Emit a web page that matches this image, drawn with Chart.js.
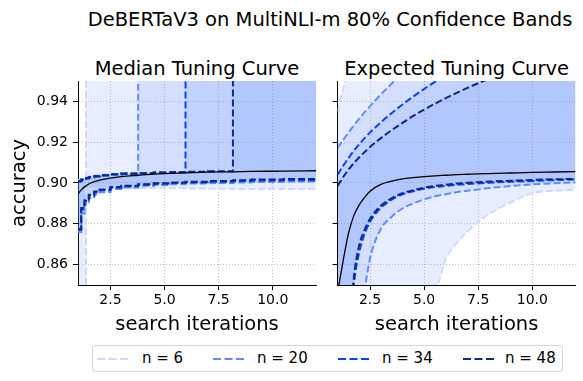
<!DOCTYPE html>
<html>
<head>
<meta charset="utf-8">
<script src="https://cdn.jsdelivr.net/npm/chart.js@4/dist/chart.umd.min.js"></script>
<style>
  body { margin: 0; background: #fff; font-family: 'DejaVu Sans', sans-serif; }
  #page { position: relative; width: 583px; height: 381px; overflow: hidden; }
  .txt { position: absolute; white-space: nowrap; text-align: center; color: #000; }
  canvas { position: absolute; top: 0; }
  #legend { position: absolute; left: 92px; top: 345px; width: 471px; height: 27px; box-sizing: border-box;
            border: 1px solid #d5d5d5; border-radius: 3px; }
  #legend svg, #legend span { position: absolute; }
  #legend span { font-size: 15px; line-height: 25px; top: 0; }
</style>
</head>
<body>
<div id="page">
  <div class="txt" style="left:30px; width:600px; top:8px; font-size:19.5px;">DeBERTaV3 on MultiNLI-m 80% Confidence Bands</div>
  <div class="txt" style="left:47px; width:300px; top:57px; font-size:19.5px;">Median Tuning Curve</div>
  <div class="txt" style="left:306.6px; width:300px; top:57px; font-size:19.5px;">Expected Tuning Curve</div>
  <canvas id="median_chart" width="320" height="345" style="left:0px"></canvas>
  <canvas id="expected_chart" width="258" height="345" style="left:325px"></canvas>
  <div id="legend"></div>
</div>
<script>
// tick labels
const xTicks = [2.5, 5.0, 7.5, 10.0];
const xTickLabels = ['2.5', '5.0', '7.5', '10.0'];
const yTicks = [0.86, 0.88, 0.90, 0.92, 0.94];
const yTickLabels = ['0.86', '0.88', '0.90', '0.92', '0.94'];

// series names (n = sample size) and their colours
const sizes = ['n = 6', 'n = 20', 'n = 34', 'n = 48'];
const lineColors = ['#cddaff', '#5f8cff', '#0a40ff', '#0a2a85'];

// median tuning curve (step bands), 1.0 / 0.80 mean the band runs off the plot
const medX    = [1, 1.15, 1.3, 1.37, 1.5, 1.75, 2, 2.5, 3, 3.78, 4.5, 5.3, 5.97, 7, 8.16, 9, 10.5, 12];
const medLine = [0.8946, 0.8966, 0.8981, 0.8986, 0.8995, 0.9007, 0.9014, 0.9024, 0.9031, 0.9038, 0.9044, 0.9047, 0.9050, 0.9053, 0.9055, 0.9057, 0.9058, 0.9060];
const medUp6  = [0.9015, 0.9019, 0.9023, 1.0, 1.0, 1.0, 1.0, 1.0, 1.0, 1.0, 1.0, 1.0, 1.0, 1.0, 1.0, 1.0, 1.0, 1.0];
const medUp20 = [0.9012, 0.9018, 0.9024, 0.9026, 0.9031, 0.9036, 0.9040, 0.9044, 0.9047, 1.0, 1.0, 1.0, 1.0, 1.0, 1.0, 1.0, 1.0, 1.0];
const medUp34 = [0.9010, 0.9017, 0.9022, 0.9024, 0.9029, 0.9034, 0.9038, 0.9043, 0.9046, 0.9049, 0.9052, 0.9054, 1.0, 1.0, 1.0, 1.0, 1.0, 1.0];
const medUp48 = [0.9007, 0.9015, 0.9020, 0.9022, 0.9027, 0.9032, 0.9037, 0.9042, 0.9045, 0.9048, 0.9051, 0.9053, 0.9055, 0.9057, 1.0, 1.0, 1.0, 1.0];
const medLo6  = [0.80, 0.80, 0.80, 0.8972, 0.8972, 0.8973, 0.8974, 0.8975, 0.8975, 0.8975, 0.8975, 0.8974, 0.8973, 0.8972, 0.8971, 0.8970, 0.8970, 0.8970];
const medLo20 = [0.8760, 0.8850, 0.8895, 0.8905, 0.8925, 0.8945, 0.8955, 0.8970, 0.8978, 0.8986, 0.8990, 0.8994, 0.8997, 0.9000, 0.9003, 0.9005, 0.9007, 0.9008];
const medLo34 = [0.8770, 0.8870, 0.8910, 0.8918, 0.8938, 0.8955, 0.8965, 0.8977, 0.8984, 0.8991, 0.8996, 0.9000, 0.9003, 0.9006, 0.9010, 0.9012, 0.9014, 0.9015];
const medLo48 = [0.8775, 0.8878, 0.8915, 0.8922, 0.8942, 0.8958, 0.8968, 0.8980, 0.8987, 0.8994, 0.8999, 0.9003, 0.9006, 0.9010, 0.9014, 0.9017, 0.9020, 0.9021];

// expected tuning curve (smooth bands)
const expX    = [1, 1.1, 1.25, 1.5, 1.75, 2, 2.25, 2.5, 3, 3.5, 4, 4.5, 5, 5.5, 6, 6.5, 7, 7.5, 8, 9, 10, 11, 12];
const expLine = [0.846, 0.8525, 0.8615, 0.8752, 0.8840, 0.8893, 0.8930, 0.8960, 0.8993, 0.9009, 0.9020, 0.9026, 0.9031, 0.9035, 0.9038, 0.9041, 0.9043, 0.9045, 0.9046, 0.9049, 0.9052, 0.9054, 0.9056];
const expUp6  = [0.935, 0.9398, 0.946, 0.9555, 0.963, 0.969, 0.974, 0.978, 0.985, 0.991, 0.996, 1.000, 1.004, 1.007, 1.010, 1.013, 1.015, 1.017, 1.019, 1.022, 1.025, 1.027, 1.029];
const expUp20 = [0.9172, 0.9187, 0.9210, 0.9247, 0.9282, 0.9315, 0.9347, 0.9377, 0.9434, 0.9487, 0.9537, 0.9580, 0.9620, 0.9657, 0.9692, 0.9725, 0.9756, 0.9785, 0.9812, 0.9862, 0.9908, 0.9950, 0.9990];
const expUp34 = [0.9040, 0.9058, 0.9083, 0.9122, 0.9158, 0.9190, 0.9220, 0.9248, 0.9297, 0.9343, 0.9385, 0.9424, 0.9461, 0.9496, 0.9529, 0.9560, 0.9590, 0.9618, 0.9645, 0.9695, 0.9741, 0.9784, 0.9824];
const expUp48 = [0.8985, 0.9003, 0.9028, 0.9065, 0.9097, 0.9126, 0.9152, 0.9177, 0.9220, 0.9259, 0.9295, 0.9329, 0.9360, 0.9389, 0.9416, 0.9442, 0.9466, 0.9489, 0.9511, 0.9552, 0.9590, 0.9625, 0.9658];
const expLo6  = [0.700, 0.710, 0.720, 0.740, 0.755, 0.770, 0.780, 0.790, 0.805, 0.815, 0.825, 0.833, 0.840, 0.846, 0.8628, 0.8705, 0.8763, 0.8810, 0.8848, 0.8905, 0.8950, 0.8962, 0.8968];
const expLo20 = [0.700, 0.720, 0.745, 0.780, 0.805, 0.825, 0.847, 0.863, 0.8775, 0.8835, 0.8875, 0.8900, 0.8920, 0.8935, 0.8945, 0.8955, 0.8962, 0.8968, 0.8975, 0.8985, 0.8993, 0.8999, 0.9003];
const expLo34 = [0.740, 0.760, 0.785, 0.815, 0.850, 0.866, 0.875, 0.881, 0.8878, 0.8918, 0.8944, 0.8960, 0.8972, 0.8980, 0.8986, 0.8991, 0.8995, 0.8998, 0.9001, 0.9006, 0.9010, 0.9014, 0.9017];
const expLo48 = [0.745, 0.765, 0.790, 0.820, 0.8535, 0.8695, 0.877, 0.8825, 0.8888, 0.8925, 0.8950, 0.8965, 0.8977, 0.8986, 0.8992, 0.8997, 0.9001, 0.9004, 0.9007, 0.9011, 0.9015, 0.9018, 0.9020];

const bandFill = 'rgba(75, 120, 255, 0.13)';
const fontFamily = "'DejaVu Sans'";

function toPoints(xs, ys) {
  return xs.map((x, i) => ({x: x, y: ys[i]}));
}

function buildDatasets(xs, line, uppers, lowers, stepped) {
  let sets = [{
    data: toPoints(xs, line),
    borderColor: '#000',
    borderWidth: 1.3,
    pointRadius: 0,
    fill: false,
    cubicInterpolationMode: 'monotone',
  }];
  // darkest first so it is drawn on top
  for (let i = sizes.length - 1; i >= 0; i--) {
    let common = {
      borderColor: lineColors[i],
      borderWidth: 2,
      borderDash: [7, 3],
      pointRadius: 0,
      stepped: stepped,
      cubicInterpolationMode: 'monotone',
    };
    sets.push(Object.assign({data: toPoints(xs, uppers[i]), fill: '+1', backgroundColor: bandFill}, common));
    sets.push(Object.assign({data: toPoints(xs, lowers[i]), fill: false}, common));
  }
  return sets;
}

function buildScales(isLeft, yWidth) {
  return {
    x: {
      type: 'linear',
      min: 1,
      max: 12,
      afterBuildTicks: (s) => { s.ticks = xTicks.map(v => ({value: v})); },
      afterFit: (s) => { s.height = 60; },
      ticks: {
        callback: (v, i) => xTickLabels[i],
        font: {family: fontFamily, size: 14},
        color: '#000',
        padding: 2,
        maxRotation: 0,
        autoSkip: false,
      },
      grid: {color: '#b0b0b0', lineWidth: 0.8, tickColor: '#000', tickWidth: 1, tickLength: 5},
      border: {color: '#000', width: 1, dash: [1, 2]},
      title: {
        display: true,
        text: 'search iterations',
        font: {family: fontFamily, size: 19.5},
        color: '#000',
        padding: {top: 0, bottom: 8},
      },
    },
    y: {
      type: 'linear',
      min: 0.85,
      max: 0.95,
      afterBuildTicks: (s) => { s.ticks = yTicks.map(v => ({value: v})); },
      afterFit: (s) => { s.width = yWidth; },
      ticks: {
        display: isLeft,
        callback: (v, i) => yTickLabels[i],
        font: {family: fontFamily, size: 14},
        color: '#000',
        padding: 5,
      },
      grid: {color: '#b0b0b0', lineWidth: 0.8, tickColor: '#000', tickWidth: 1, tickLength: 5},
      border: {color: '#000', width: 1, dash: [1, 2]},
      title: {
        display: isLeft,
        text: 'accuracy',
        font: {family: fontFamily, size: 19.5},
        color: '#000',
        padding: {top: 8, bottom: 0},
      },
    },
  };
}

function renderPanel(id, datasets, isLeft, yWidth, padRight) {
  let setup = {
    type: 'line',
    data: {datasets: datasets},
    options: {
      responsive: false,
      animation: false,
      devicePixelRatio: 1,
      layout: {padding: {top: 81, left: 0, right: padRight, bottom: 0}},
      plugins: {
        legend: {display: false},
        tooltip: {enabled: false},
        filler: {drawTime: 'beforeDatasetsDraw'},
      },
      scales: buildScales(isLeft, yWidth),
    }
  };
  new Chart(document.getElementById(id), setup);
}

renderPanel('median_chart',
  buildDatasets(medX, medLine, [medUp6, medUp20, medUp34, medUp48], [medLo6, medLo20, medLo34, medLo48], true),
  true, 78, 4);
renderPanel('expected_chart',
  buildDatasets(expX, expLine, [expUp6, expUp20, expUp34, expUp48], [expLo6, expLo20, expLo34, expLo48], false),
  false, 12.6, 7.4);

// legend
function renderLegend() {
  let box = document.getElementById('legend');
  let handleX = [4, 120, 245, 370];
  let textX = [49, 164, 289, 412];
  for (let i = 0; i < sizes.length; i++) {
    let svg = document.createElementNS('http://www.w3.org/2000/svg', 'svg');
    svg.setAttribute('width', '32');
    svg.setAttribute('height', '6');
    svg.style.left = handleX[i] + 'px';
    svg.style.top = '10px';
    let ln = document.createElementNS('http://www.w3.org/2000/svg', 'line');
    ln.setAttribute('x1', '0'); ln.setAttribute('y1', '3');
    ln.setAttribute('x2', '32'); ln.setAttribute('y2', '3');
    ln.setAttribute('stroke', lineColors[i]);
    ln.setAttribute('stroke-width', '2');
    ln.setAttribute('stroke-dasharray', '8 3.5');
    svg.appendChild(ln);
    box.appendChild(svg);
    let label = document.createElement('span');
    label.textContent = sizes[i];
    label.style.left = textX[i] + 'px';
    box.appendChild(label);
  }
}
renderLegend();
</script>
</body>
</html>
